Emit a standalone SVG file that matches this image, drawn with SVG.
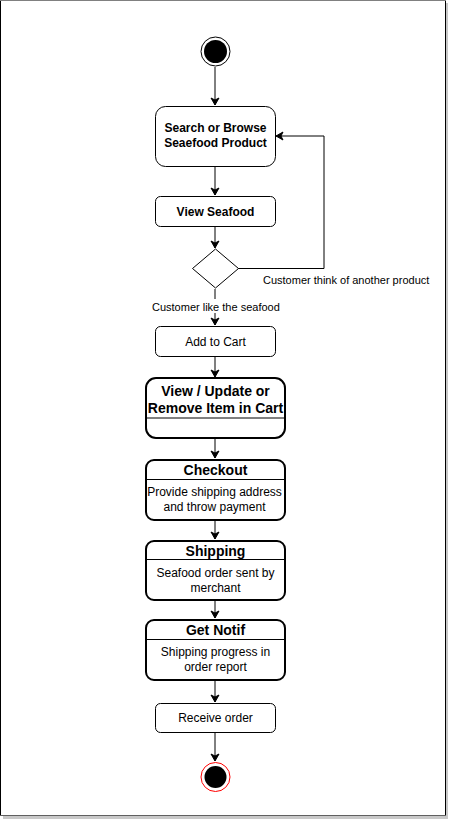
<svg xmlns="http://www.w3.org/2000/svg" width="449" height="820" viewBox="0 0 449 820">
<style>
text{font-family:"Liberation Sans",Arial,sans-serif;fill:#000}
.b{font-weight:bold;font-size:12px}
.t{font-weight:bold;font-size:14px}
.n{font-size:12px}
.l{font-size:11px}
.box{fill:#fff;stroke:#000;stroke-width:1}
.sbox{fill:#fff;stroke:#000;stroke-width:2}
.e{fill:none;stroke:#000;stroke-width:1}
</style>
<defs>
<marker id="a" markerWidth="10" markerHeight="10" refX="8" refY="5" orient="auto" markerUnits="userSpaceOnUse">
<path d="M1,1 L8,5 L1,9 L3,5 Z" fill="#000" stroke="#000"/>
</marker>
</defs>
<g id="frame">
<rect x="3" y="3" width="445" height="816" fill="#c8c8c8"/>
<rect x="0.5" y="0.5" width="445" height="815" fill="#fff" stroke="#000"/>
<line x1="0" y1="0.5" x2="446" y2="0.5" stroke="#808080"/>
<line x1="0" y1="815.5" x2="446" y2="815.5" stroke="#606060"/>
</g>
<g id="connectors">
<path class="e" d="M215,67 V105" marker-end="url(#a)"/>
<path class="e" d="M215,166 V195" marker-end="url(#a)"/>
<path class="e" d="M215,226 V248" marker-end="url(#a)"/>
<path class="e" d="M238,268.5 H324 V136 H276" marker-end="url(#a)"/>
<path class="e" d="M215,289 V325" marker-end="url(#a)"/>
<path class="e" d="M215,356 V377" marker-end="url(#a)"/>
<path class="e" d="M215,438 V458" marker-end="url(#a)"/>
<path class="e" d="M215,520 V539" marker-end="url(#a)"/>
<path class="e" d="M215,601 V618" marker-end="url(#a)"/>
<path class="e" d="M215,680 V702" marker-end="url(#a)"/>
<path class="e" d="M215,733 V761" marker-end="url(#a)"/>
<text class="l" x="263" y="284">Customer think of another product</text>
<rect x="151" y="299" width="129" height="14" fill="#fff"/>
<text class="l" x="152" y="311">Customer like the seafood</text>
</g>
<g id="start">
<circle cx="215.5" cy="51.5" r="14.5" fill="#fff" stroke="#000"/>
<circle cx="215.5" cy="51.5" r="11.5" fill="#000"/>
</g>
<g id="search">
<rect class="box" x="155.5" y="106.5" width="120" height="60" rx="10"/>
<text class="b" x="215.5" y="132" text-anchor="middle">Search or Browse</text>
<text class="b" x="215.5" y="147" text-anchor="middle">Seaefood Product</text>
</g>
<g id="view">
<rect class="box" x="155.5" y="196.5" width="120" height="30" rx="5"/>
<text class="b" x="215.5" y="215.5" text-anchor="middle">View Seafood</text>
</g>
<g id="decision">
<polygon class="box" points="215.5,249 238.5,268.5 215.5,288 192.5,268.5"/>
</g>
<g id="addcart">
<rect class="box" x="155.5" y="326.5" width="120" height="30" rx="5"/>
<text class="n" x="215.5" y="345.5" text-anchor="middle">Add to Cart</text>
</g>
<g id="update">
<rect class="sbox" x="146" y="378" width="139" height="60" rx="10"/>
<line x1="146" y1="418" x2="285" y2="418" stroke="#000" stroke-width="1"/>
<text class="t" x="215.5" y="396" text-anchor="middle">View / Update or</text>
<text class="t" x="215.5" y="413" text-anchor="middle">Remove Item in Cart</text>
</g>
<g id="checkout">
<rect class="sbox" x="146" y="460" width="139" height="60" rx="8"/>
<line x1="146" y1="479.5" x2="285" y2="479.5" stroke="#000" stroke-width="1"/>
<text class="t" x="215.5" y="474.5" text-anchor="middle">Checkout</text>
<text class="n" x="214.5" y="496" text-anchor="middle">Provide shipping address</text>
<text class="n" x="214.5" y="511" text-anchor="middle">and throw payment</text>
</g>
<g id="shipping">
<rect class="sbox" x="146" y="541" width="139" height="59" rx="8"/>
<line x1="146" y1="559.5" x2="285" y2="559.5" stroke="#000" stroke-width="1"/>
<text class="t" x="215.5" y="555.5" text-anchor="middle">Shipping</text>
<text class="n" x="215.5" y="577" text-anchor="middle">Seafood order sent by</text>
<text class="n" x="215.5" y="592" text-anchor="middle">merchant</text>
</g>
<g id="notif">
<rect class="sbox" x="146" y="620" width="139" height="60" rx="8"/>
<line x1="146" y1="639.5" x2="285" y2="639.5" stroke="#000" stroke-width="1"/>
<text class="t" x="215.5" y="635" text-anchor="middle">Get Notif</text>
<text class="n" x="215.5" y="656" text-anchor="middle">Shipping progress in</text>
<text class="n" x="215.5" y="671" text-anchor="middle">order report</text>
</g>
<g id="receive">
<rect class="box" x="155.5" y="703.5" width="120" height="29" rx="5"/>
<text class="n" x="215.5" y="722" text-anchor="middle">Receive order</text>
</g>
<g id="end">
<circle cx="215.5" cy="777" r="14.5" fill="#fff" stroke="#f00"/>
<circle cx="215.5" cy="777" r="11" fill="#000"/>
</g>
</svg>
